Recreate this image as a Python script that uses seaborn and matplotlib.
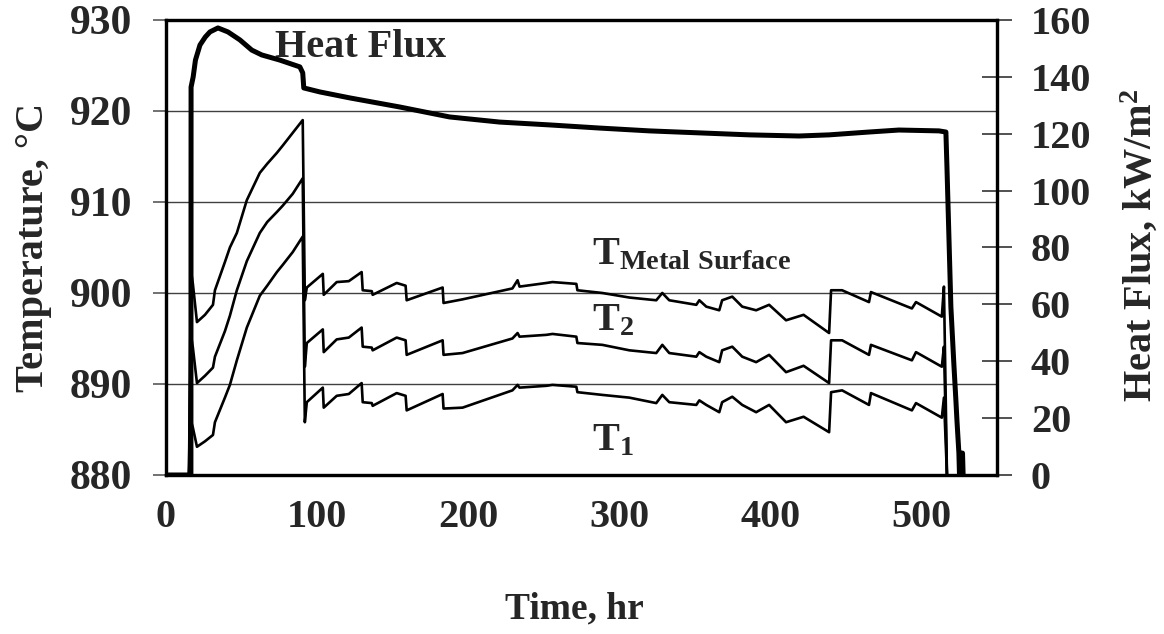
import numpy as np
import seaborn as sns
import matplotlib
matplotlib.use("Agg")
import matplotlib.pyplot as plt

# heat flux, kW/m2 (right axis)
hf_time = [0, 16.5, 16.6, 18.0, 19.5, 22.5, 26.0, 29.1, 34.4, 41.0,
           48.9, 56.8, 63.4, 75.3, 88.6, 90.5, 91.2, 101.8, 121.6, 154.7,
           187.7, 220.8, 253.8, 286.8, 319.9, 352.9, 386.0, 419.0, 438.9, 465.3,
           485.1, 511.6, 516.2, 516.9, 518.2, 519.5, 521.5, 522.8, 523.5, 524.8,
           525.2, 525.6, 526.0, 526.4, 526.8, 527.2, 527.6]
hf_values = [0, 0, 136.4, 140.0, 145.9, 151.2, 154.0, 155.8, 157.2, 155.8,
             153.0, 149.4, 147.7, 145.9, 143.5, 141.4, 136.1, 134.7, 132.6, 129.4,
             125.9, 124.1, 123.1, 122.0, 121.0, 120.3, 119.6, 119.2, 119.6, 120.6,
             121.3, 121.0, 120.6, 108.3, 83.7, 59.1, 38.7, 26.4, 19.3, 7.7,
             0, 7.7, 0, 7.7, 0, 7.7, 0]

# temperatures, deg C (left axis)
temp_time = [15.2, 16.5, 17.8, 20.5, 25.8, 31.1, 32.4, 39.0, 42.3, 46.9,
             53.5, 62.1, 67.0, 73.4, 77.3, 83.9, 90.5, 91.9, 93.2, 103.8,
             104.4, 113.0, 121.0, 129.5, 130.2, 136.2, 136.8, 152.7, 158.6, 159.3,
             183.1, 183.7, 196.3, 229.3, 232.7, 234.0, 251.8, 255.8, 271.6, 272.3,
             288.8, 306.7, 324.5, 328.5, 333.1, 351.0, 353.0, 357.6, 366.2, 368.1,
             374.8, 381.4, 390.6, 399.2, 410.4, 422.0, 438.9, 440.2, 447.5, 465.3,
             466.6, 493.7, 496.4, 513.5, 514.9, 516.9]
t_metal_surface = [880.0, 902.5, 901.0, 896.8, 897.6, 898.7, 900.3, 903.4, 905.0, 906.6,
                   910.2, 913.2, 914.2, 915.4, 916.2, 917.6, 919.0, 899.2, 900.6, 902.1,
                   899.8, 901.2, 901.3, 902.3, 900.3, 900.2, 899.8, 901.1, 900.8, 899.2,
                   900.6, 898.9, 899.3, 900.5, 901.4, 900.7, 901.1, 901.2, 901.0, 900.3,
                   900.0, 899.5, 899.2, 900.0, 899.2, 898.7, 899.2, 898.5, 898.1, 899.2,
                   899.6, 898.5, 898.1, 898.7, 897.0, 897.6, 895.6, 900.3, 900.3, 899.0,
                   900.1, 898.3, 899.0, 897.4, 900.7, 880.0]
t2 = [880.0, 895.4, 894.0, 890.1, 890.9, 891.8, 893.0, 895.8, 897.5, 900.3,
      903.5, 906.6, 907.8, 908.9, 909.6, 910.9, 912.6, 891.9, 894.5, 896.0,
      893.5, 894.9, 895.1, 896.2, 894.1, 894.0, 893.7, 895.1, 894.8, 893.2,
      894.8, 893.2, 893.4, 895.0, 895.6, 895.2, 895.4, 895.5, 895.2, 894.5,
      894.3, 893.7, 893.4, 894.3, 893.4, 893.0, 893.5, 893.0, 892.4, 893.7,
      894.1, 893.0, 892.4, 893.2, 891.3, 892.0, 890.1, 894.8, 894.8, 893.2,
      894.3, 892.6, 893.5, 891.9, 894.1, 880.0]
t1 = [880.0, 886.0, 885.2, 883.1, 883.7, 884.4, 885.8, 888.5, 889.9, 892.6,
      896.2, 899.7, 900.8, 902.3, 903.1, 904.5, 906.2, 885.8, 888.0, 889.6,
      887.4, 888.7, 888.9, 890.1, 888.0, 887.9, 887.6, 889.0, 888.7, 887.1,
      888.9, 887.3, 887.4, 889.3, 889.9, 889.6, 889.8, 889.9, 889.7, 889.1,
      888.8, 888.5, 887.9, 888.8, 888.0, 887.7, 888.2, 887.7, 886.9, 888.0,
      888.6, 887.7, 886.9, 887.7, 885.8, 886.4, 884.7, 889.1, 889.3, 887.7,
      889.0, 887.1, 887.9, 886.3, 888.5, 880.0]

x_ticks = [0, 100, 200, 300, 400, 500]
temp_ticks = [880, 890, 900, 910, 920, 930]
hf_ticks = [0, 20, 40, 60, 80, 100, 120, 140, 160]

sns.set_style("white")
plt.rcParams['font.family'] = ['Liberation Serif', 'DejaVu Serif']
plt.rcParams['font.weight'] = 'bold'
plt.rcParams['mathtext.fontset'] = 'custom'
plt.rcParams['mathtext.rm'] = 'Liberation Serif:bold'
plt.rcParams['mathtext.bf'] = 'Liberation Serif:bold'
plt.rcParams['mathtext.it'] = 'Liberation Serif:bold'

fs = 29

fig = plt.figure(figsize=(11.64, 6.34), dpi=100)
ax = fig.add_axes([0.1426, 0.2508, 0.7139, 0.7177])
ax2 = ax.twinx()

for vals in [t_metal_surface, t2, t1]:
    sns.lineplot(x=temp_time, y=vals, ax=ax, color='black', lw=1.9,
                 sort=False, estimator=None)
sns.lineplot(x=hf_time, y=hf_values, ax=ax2, color='black', lw=3.6,
             sort=False, estimator=None)

ax.set_xlim(0, 550)
ax.set_ylim(880, 930)
ax2.set_ylim(0, 160)
ax.set_xticks(x_ticks)
ax.set_yticks(temp_ticks)
ax2.set_yticks(hf_ticks)
ax.set_xticklabels([str(v) for v in x_ticks], fontsize=fs, fontweight='bold')
ax.set_yticklabels([str(v) for v in temp_ticks], fontsize=30, fontweight='bold')
ax2.set_yticklabels([str(v) for v in hf_ticks], fontsize=fs, fontweight='bold')

ax.yaxis.grid(True, color='0.25', lw=1.0)
ax.xaxis.grid(False)
ax.set_axisbelow(True)

ax.tick_params(axis='y', direction='out', length=9.5, width=1.2, color='0.35', pad=15)
ax.tick_params(axis='x', direction='out', length=9, width=1.2, color='0.35', pad=8)
ax2.tick_params(axis='y', direction='inout', length=21, width=1.2, color='0.2', pad=14)

for a in (ax, ax2):
    for sp in a.spines.values():
        sp.set_linewidth(2.3)
        sp.set_color('black')

ax.set_xlabel('Time, hr', fontsize=27, fontweight='bold')
ax.set_ylabel('Temperature, °C', fontsize=fs, fontweight='bold')
ax2.set_ylabel('Heat Flux, kW/m$^{2}$', fontsize=fs, fontweight='bold')
ax.xaxis.set_label_coords(0.492, -0.255)
ax.yaxis.set_label_coords(-0.137, 0.5)
ax2.yaxis.set_label_coords(1.147, 0.505)

ax.text(72, 925.9, 'Heat Flux', fontsize=fs, fontweight='bold', va='baseline')
ax.text(282, 903.1, r'T$_{\mathrm{Metal\ Surface}}$', fontsize=fs,
        fontweight='bold', va='baseline')
ax.text(282, 895.9, r'T$_{\mathrm{2}}$', fontsize=fs, fontweight='bold', va='baseline')
ax.text(282, 882.7, r'T$_{\mathrm{1}}$', fontsize=fs, fontweight='bold', va='baseline')

fig.savefig('out.png', dpi=100)
